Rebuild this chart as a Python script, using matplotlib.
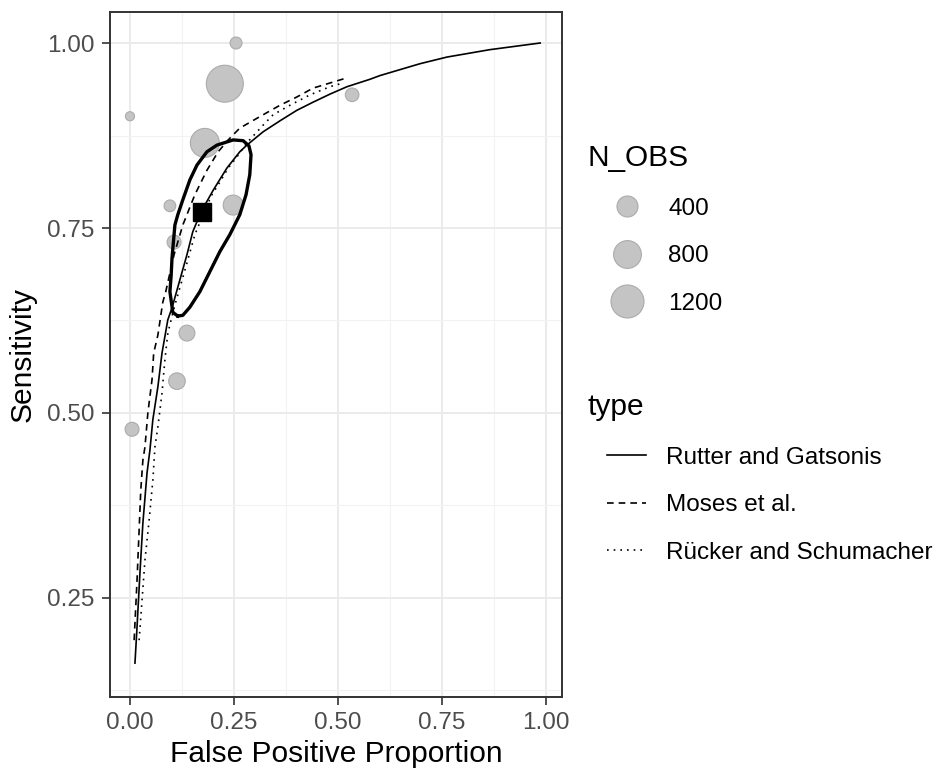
import matplotlib
matplotlib.use('Agg')
import matplotlib.pyplot as plt
from matplotlib.lines import Line2D
from matplotlib.legend_handler import HandlerLine2D
import numpy as np

plt.rcParams['font.family'] = ['Liberation Sans', 'DejaVu Sans']

# study points (false positive proportion, sensitivity, number of observations)
fpr = [0.255, 0.228, 0.000, 0.180, 0.096, 0.248, 0.106, 0.137, 0.113, 0.005, 0.534]
sens = [1.000, 0.945, 0.901, 0.865, 0.780, 0.781, 0.731, 0.608, 0.543, 0.478, 0.930]
n_obs = [80, 1560, 30, 885, 75, 350, 130, 190, 215, 130, 120]

# summary point
summary_fpr = 0.172
summary_sens = 0.772

# confidence region
ell_x = [0.115, 0.103, 0.096, 0.099, 0.101, 0.108, 0.115, 0.127, 0.144, 0.161, 0.185, 0.209,
         0.248, 0.272, 0.286, 0.291, 0.288, 0.279, 0.264, 0.240, 0.216, 0.200, 0.168, 0.144,
         0.127, 0.115]
ell_y = [0.631, 0.636, 0.664, 0.686, 0.709, 0.754, 0.768, 0.788, 0.815, 0.835, 0.853, 0.862,
         0.869, 0.868, 0.861, 0.849, 0.822, 0.795, 0.768, 0.741, 0.718, 0.700, 0.664, 0.643,
         0.632, 0.631]

# SROC curves
rg_x = [0.012, 0.017, 0.024, 0.031, 0.041, 0.048, 0.055, 0.067, 0.077, 0.091, 0.101, 0.120,
        0.137, 0.151, 0.171, 0.200, 0.233, 0.264, 0.281, 0.320, 0.361, 0.401, 0.440, 0.481,
        0.522, 0.577, 0.601, 0.697, 0.762, 0.865, 0.986]
rg_y = [0.162, 0.211, 0.284, 0.351, 0.419, 0.450, 0.491, 0.535, 0.581, 0.626, 0.642, 0.680,
        0.714, 0.745, 0.772, 0.801, 0.831, 0.853, 0.862, 0.880, 0.895, 0.909, 0.920, 0.931,
        0.941, 0.951, 0.956, 0.972, 0.981, 0.991, 1.000]

moses_x = [0.010, 0.017, 0.022, 0.026, 0.031, 0.036, 0.043, 0.053, 0.057, 0.067, 0.079, 0.086,
           0.106, 0.127, 0.156, 0.185, 0.212, 0.236, 0.264, 0.320, 0.361, 0.401, 0.440, 0.481,
           0.522]
moses_y = [0.193, 0.274, 0.342, 0.396, 0.436, 0.454, 0.500, 0.545, 0.581, 0.605, 0.650, 0.664,
           0.714, 0.754, 0.795, 0.828, 0.853, 0.869, 0.885, 0.903, 0.916, 0.927, 0.939, 0.946,
           0.953]

rucker_x = [0.022, 0.029, 0.036, 0.046, 0.055, 0.060, 0.067, 0.077, 0.084, 0.091, 0.108, 0.132,
            0.156, 0.180, 0.197, 0.216, 0.236, 0.257, 0.281, 0.320, 0.344, 0.385, 0.433, 0.481,
            0.512]
rucker_y = [0.193, 0.247, 0.301, 0.355, 0.409, 0.454, 0.481, 0.527, 0.572, 0.608, 0.646, 0.693,
            0.741, 0.774, 0.795, 0.812, 0.831, 0.846, 0.865, 0.889, 0.903, 0.916, 0.930, 0.941,
            0.946]

legend_sizes = [400, 800, 1200]
type_labels = ['Rutter and Gatsonis', 'Moses et al.', 'R\u00fccker and Schumacher']


def diam_pt(n):
    # circle diameter (points) for a given N_OBS
    return (4.6 + 0.82 * np.sqrt(n)) * 0.72


pt_face = '#C4C4C4'
pt_edge = '#ABABAB'

fig = plt.figure(figsize=(9.5, 7.73), dpi=100)
ax = fig.add_axes([110 / 950, 1 - 697 / 773, (562 - 110) / 950, (697 - 12) / 773])

ax.scatter(fpr, sens, s=[diam_pt(n) ** 2 for n in n_obs], c=pt_face, edgecolors=pt_edge,
           linewidths=0.8, zorder=2)

ax.plot(ell_x, ell_y, color='black', lw=2.4, zorder=3, solid_joinstyle='round')
ax.plot(rg_x, rg_y, color='black', lw=1.2, zorder=3)
ax.plot(moses_x, moses_y, color='black', lw=1.2, dashes=(4, 3), zorder=3)
ax.plot(rucker_x, rucker_y, color='black', lw=1.2, dashes=(1, 3), zorder=3)
ax.plot([summary_fpr], [summary_sens], marker='s', color='black', markersize=12.5, zorder=4)

ax.set_xlim(-0.048, 1.0385)
ax.set_ylim(0.1162, 1.0419)
ax.set_xticks([0, 0.25, 0.5, 0.75, 1.0])
ax.set_xticklabels(['0.00', '0.25', '0.50', '0.75', '1.00'])
ax.set_yticks([0.25, 0.5, 0.75, 1.0])
ax.set_yticklabels(['0.25', '0.50', '0.75', '1.00'])
ax.set_xticks([0.125, 0.375, 0.625, 0.875], minor=True)
ax.set_yticks([0.125, 0.375, 0.625, 0.875], minor=True)
ax.grid(which='major', color='#EBEBEB', lw=1.4, zorder=0)
ax.grid(which='minor', color='#F2F2F2', lw=0.8, zorder=0)
ax.set_axisbelow(True)
ax.tick_params(which='major', length=6, width=1.2, color='#333333', labelsize=17.5,
               labelcolor='#4D4D4D', pad=5)
ax.tick_params(which='minor', length=0)
for sp in ax.spines.values():
    sp.set_color('#333333')
    sp.set_linewidth(1.4)

ax.set_xlabel('False Positive Proportion', fontsize=21.5, labelpad=4)
ax.set_ylabel('Sensitivity', fontsize=21.5, labelpad=8)

# legends
size_handles = [Line2D([], [], marker='o', linestyle='none', markersize=diam_pt(n),
                       markerfacecolor=pt_face, markeredgecolor=pt_edge, markeredgewidth=0.8)
                for n in legend_sizes]
leg1 = fig.legend(size_handles, [str(n) for n in legend_sizes], title='N_OBS',
                  loc='upper left', bbox_to_anchor=(588 / 950, 1 - 144 / 773),
                  frameon=False, fontsize=17.5, title_fontsize=21.5, alignment='left',
                  handlelength=3.2, handletextpad=0.1, labelspacing=1.05, borderpad=0,
                  borderaxespad=0)

type_handles = [Line2D([], [], color='black', lw=1.2),
                Line2D([], [], color='black', lw=1.2, dashes=(4, 3)),
                Line2D([], [], color='black', lw=1.2, dashes=(1, 3))]
leg2 = fig.legend(type_handles, type_labels, title='type',
                  loc='upper left', bbox_to_anchor=(588 / 950, 1 - 393 / 773),
                  frameon=False, fontsize=17.5, title_fontsize=21.5, alignment='left',
                  handlelength=2.4, handletextpad=0.8, labelspacing=1.05, borderpad=0,
                  borderaxespad=0,
                  handler_map={Line2D: HandlerLine2D(xpad=0.8)})

fig.savefig('out.png', dpi=100)
